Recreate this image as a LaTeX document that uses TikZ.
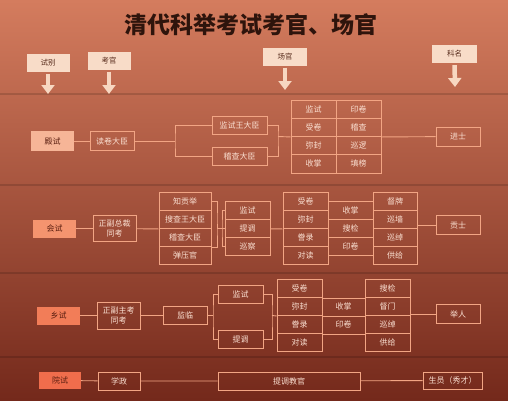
\documentclass[tikz,border=0pt]{standalone}
\usepackage{fontspec}
\setmainfont{Noto Sans CJK SC}
\usetikzlibrary{arrows.meta}

\definecolor{bgtop}{HTML}{D47C5E}
\definecolor{bgmid}{HTML}{B85A3F}
\definecolor{bgbot}{HTML}{74291B}
\definecolor{lncol}{HTML}{F2A584}
\definecolor{txcol}{HTML}{FBE0D2}
\definecolor{hdfill}{HTML}{F8DCC8}
\definecolor{hdtext}{HTML}{5A2E1E}
\definecolor{lbtext}{HTML}{5A1E10}
\definecolor{ttcol}{HTML}{2E140C}
\definecolor{fdian}{HTML}{F6B597}
\definecolor{fhui}{HTML}{F4946F}
\definecolor{fxiang}{HTML}{F27D58}
\definecolor{fyuan}{HTML}{F06D4C}

\tikzset{
  link/.style={draw=lncol, line width=0.9pt},
  box/.style={draw=lncol, line width=0.9pt, text=txcol, inner sep=0pt,
    minimum width=44pt, minimum height=18pt, font=\fontsize{8}{9.5}\selectfont, align=center},
  cell/.style={box, minimum width=45pt},
  lbl/.style={fill=#1, text=lbtext, inner sep=0pt, minimum width=43pt,
    minimum height=18pt, font=\fontsize{8}{9.5}\selectfont},
  hdbox/.style={fill=hdfill, text=hdtext, inner sep=0pt, minimum width=43pt,
    minimum height=18pt, font=\fontsize{7.5}{9}\selectfont},
  fatarrow/.style={draw=hdfill!90!lncol, line width=4.5pt, shorten <=2pt,
    -{Triangle[width=13pt,length=9pt]}},
  midtxt/.style={text=txcol, font=\fontsize{8}{9.5}\selectfont, inner sep=0pt},
  sepline/.style={draw=black, opacity=0.14, line width=1.4pt}
}

\begin{document}
\begin{tikzpicture}[x=1pt, y=-1pt]
\useasboundingbox (0,0) rectangle (508,400);
% Background
\shade[top color=bgtop, middle color=bgmid, bottom color=bgbot] (0,0) rectangle (508,400);
\foreach \y in {94,185,273,357} {
  \draw[sepline] (0,\y) -- (508,\y);
}
% Title
\node[text=ttcol, font=\fontsize{23}{26}\selectfont\bfseries] (title) at (251,25) {清代科举考试考官、场官};
% Headers
\node[hdbox] (hdA) at (48,63) {试别};
\node[hdbox] (hdB) at (109,60.5) {考官};
\node[hdbox, minimum width=44pt] (hdC) at (285,56.5) {场官};
\node[hdbox, minimum width=45pt] (hdD) at (454.5,54) {科名};
\coordinate (arA) at (48,94);
\coordinate (arB) at (109,94);
\coordinate (arC) at (285,90);
\coordinate (arD) at (455,87);
\foreach \h in {A,B,C,D} {
  \draw[fatarrow] (hd\h.south) -- (ar\h);
}

% 殿试
\node[lbl=fdian, minimum height=20pt] (dianshi) at (52.5,141) {殿试};
\node[box, minimum height=19pt] (duxuan) at (112,141) {读卷大臣};
\node[box, minimum width=55pt] (djsw) at (239.5,125) {监试王大臣};
\node[box, minimum width=55pt] (djc) at (239.5,156) {稽查大臣};
\foreach \t [count=\i] in {监试,受卷,弥封,收掌} {
  \node[cell, minimum height=18.25pt] (dA\i) at (313.5,{100+18.25*(\i-0.5)}) {\t};
}
\foreach \t [count=\i] in {印卷,稽查,巡逻,填榜} {
  \node[cell, minimum height=18.25pt] (dB\i) at (358.5,{100+18.25*(\i-0.5)}) {\t};
}
\node[box, minimum height=19pt] (jinshi) at (458,136.5) {进士};
\coordinate (dbrA) at (175,141);
\coordinate (dbrB) at (278,136.5);
\draw[link] (dianshi) -- (duxuan);
\draw[link] (duxuan) -- (dbrA);
\draw[link] (djsw.west) -| (dbrA) |- (djc.west);
\draw[link] (djsw.east) -| (dbrB) |- (djc.east);
\draw[link] (dbrB) -- (dA2.south west);
\draw[link] (dB2.south east) -- (jinshi);

% 会试
\node[lbl=fhui] (huishi) at (54.5,228.5) {会试};
\node[box, minimum width=43pt, minimum height=26pt] (zongcai) at (114.5,228.5) {正副总裁\\同考};
\foreach \t [count=\i] in {知贡举,搜查王大臣,稽查大臣,弹压官} {
  \node[cell, minimum width=52pt] (hA\i) at (185,{192.5+18*(\i-0.5)}) {\t};
}
\foreach \t [count=\i] in {监试,提调,巡察} {
  \node[cell] (hB\i) at (247.5,{201.5+18*(\i-0.5)}) {\t};
}
\foreach \t [count=\i] in {受卷,弥封,誊录,对读} {
  \node[cell] (hC\i) at (305.5,{192.5+18*(\i-0.5)}) {\t};
}
\foreach \t [count=\i] in {督牌,巡墙,巡绰,供给} {
  \node[cell, minimum width=44pt] (hD\i) at (395,{192.5+18*(\i-0.5)}) {\t};
}
\foreach \t [count=\i] in {收掌,搜检,印卷} {
  \node[midtxt] (hM\i) at (350.5,{192.5+18*\i}) {\t};
}
\node[box, minimum height=19pt] (gongshi) at (458,225) {贡士};
\coordinate (hbrA) at (217,224);
\coordinate (hbrB) at (222,228.5);
\draw[link] (huishi) -- (zongcai);
\draw[link] (zongcai) -- (hA2.south west);
\draw[link] (hA1.east) -| (hbrA) |- (hA3.south east);
\draw[link] (hbrA) |- (hbrB);
\draw[link] (hB1.west) -| (hbrB) |- (hB3.west);
\draw[link] (hbrB) -- (hB2.west);
\draw[link] (hB2) -- (hC2.south west);
\foreach \i in {1,...,4} {
  \draw[link] (hC\i.east) -- (hD\i.west);
}
\draw[link] (gongshi.west) -- (gongshi.west -| hD1.east);

% 乡试
\node[lbl=fxiang] (xiangshi) at (58.5,315.5) {乡试};
\node[box, minimum width=43pt, minimum height=27pt] (zhukao) at (118.5,315.5) {正副主考\\同考};
\node[box] (jianlin) at (185,315.5) {监临};
\node[cell] (xjs) at (240.5,294) {监试};
\node[cell] (xtd) at (240.5,339) {提调};
\foreach \t [count=\i] in {受卷,弥封,誊录,对读} {
  \node[cell] (xE\i) at (299.5,{279.5+18*(\i-0.5)}) {\t};
}
\foreach \t [count=\i] in {搜检,督门,巡绰,供给} {
  \node[cell] (xF\i) at (387.5,{279.5+18*(\i-0.5)}) {\t};
}
\node[midtxt] (xM1) at (343.5,306.5) {收掌};
\node[midtxt] (xM2) at (343.5,324.5) {印卷};
\node[box, minimum height=19pt] (juren) at (458,314) {举人};
\coordinate (xbrA) at (213,315.5);
\coordinate (xbrB) at (272,315.5);
\draw[link] (xiangshi) -- (zhukao);
\draw[link] (zhukao) -- (jianlin);
\draw[link] (jianlin) -- (xbrA);
\draw[link] (xjs.west) -| (xbrA) |- (xtd.west);
\draw[link] (xjs.east) -| (xbrB) |- (xtd.east);
\draw[link] (xbrB) -- (xE2.south west);
\foreach \i in {1,2,3} {
  \draw[link] (xE\i.south east) -- (xF\i.south west);
}
\draw[link] (juren.west) -- (juren.west -| xF1.east);

% 院试
\node[lbl=fyuan, minimum width=42pt, minimum height=17pt] (yuanshi) at (60,380.5) {院试};
\node[box, minimum width=42pt] (xuezheng) at (119,381) {学政};
\node[box, minimum width=142pt] (tdjg) at (289,381) {提调教官};
\node[box, minimum width=59pt, minimum height=17pt] (shengyuan) at (452.5,380.5) {生员（秀才）};
\draw[link] (yuanshi) -- (xuezheng) -- (tdjg) -- (shengyuan);
\end{tikzpicture}
\end{document}
